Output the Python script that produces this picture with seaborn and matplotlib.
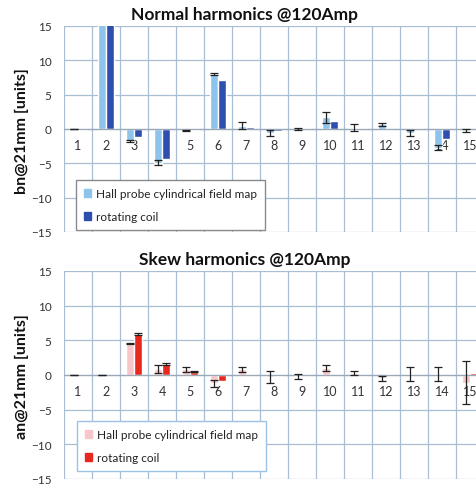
import numpy as np
import pandas as pd
import matplotlib
matplotlib.use("Agg")
import matplotlib.pyplot as plt
import seaborn as sns

harmonics = [str(i) for i in range(1, 16)]
sources = ["Hall probe cylindrical field map", "rotating coil"]

# normal harmonics bn@21mm [units]
bn_hall = [0.0, 25.0, -1.7, -4.9, -0.2, 8.0, 0.5, -0.6, 0.0, 1.7, 0.2, 0.7, -0.6, -2.7, -0.2]
bn_hall_err = [0.05, 0.1, 0.15, 0.35, 0.1, 0.15, 0.5, 0.4, 0.2, 0.8, 0.5, 0.2, 0.4, 0.3, 0.2]
bn_coil = [-0.2, 25.0, -1.2, -4.4, -0.2, 7.2, 0.3, -0.3, 0.1, 1.1, 0.1, -0.2, 0.1, -1.5, -0.05]
bn_coil_err = [0.0] * 15

# skew harmonics an@21mm [units]
an_hall = [0.0, 0.0, 4.5, 0.9, 0.8, -1.2, 0.8, -0.3, -0.2, 1.0, 0.3, -0.5, 0.2, 0.2, -1.1]
an_hall_err = [0.05, 0.05, 0.1, 0.6, 0.4, 0.5, 0.4, 0.9, 0.4, 0.4, 0.3, 0.3, 1.0, 1.0, 3.1]
an_coil = [-0.05, -0.05, 5.9, 1.6, 0.5, -0.8, 0.2, -0.1, 0.0, 0.05, -0.1, 0.2, 0.0, -0.05, 0.3]
an_coil_err = [0, 0, 0.1, 0.1, 0.05, 0, 0, 0, 0, 0, 0, 0, 0, 0, 0]

grid_col = "#a9bdd3"

sns.set_style("white")
plt.rcParams["font.family"] = ["Lato", "DejaVu Sans"]

fig = plt.figure(figsize=(4.76, 4.85), dpi=100)


def draw_panel(rect, hall, hall_err, coil, coil_err, colors, legend_anchor, legend_edge):
    ax = fig.add_axes(rect)
    df = pd.DataFrame({
        "harmonic": harmonics * 2,
        "value": hall + coil,
        "source": [sources[0]] * 15 + [sources[1]] * 15,
    })
    sns.barplot(data=df, x="harmonic", y="value", hue="source", order=harmonics,
                hue_order=sources, palette=colors, width=0.58, saturation=1,
                errorbar=None, ax=ax, legend=False)
    # error bars drawn on top of each series
    for bars, vals, errs in zip(ax.containers, [hall, coil], [hall_err, coil_err]):
        xs = [b.get_x() + b.get_width() / 2 for b in bars]
        keep = [i for i, e in enumerate(errs) if e > 0]
        ax.errorbar([xs[i] for i in keep], [vals[i] for i in keep],
                    yerr=[errs[i] for i in keep], fmt="none", ecolor="#222222",
                    elinewidth=0.9, capsize=2.8, capthick=0.9, zorder=3)

    ax.set_xlim(-0.5, 14.5)
    ax.set_ylim(-15, 15)
    ax.set_yticks(np.arange(-15, 16, 5))
    ax.set_xticks(np.arange(-0.5, 15, 1), minor=True)
    ax.set_axisbelow(True)
    ax.grid(which="minor", axis="x", color=grid_col, lw=0.9)
    ax.grid(which="major", axis="y", color=grid_col, lw=0.9)
    ax.grid(which="major", axis="x", visible=False)
    for s in ["top", "right", "left"]:
        ax.spines[s].set_visible(False)
    ax.spines["bottom"].set_position(("data", 0))
    ax.spines["bottom"].set_color("#9aa8b8")
    ax.spines["bottom"].set_linewidth(0.9)
    ax.tick_params(axis="x", which="both", length=0, pad=7, labelsize=9, colors="#333333")
    ax.tick_params(axis="y", length=0, pad=9, labelsize=8.5, colors="#333333")
    ax.set_xlabel("")
    ax.set_ylabel("")

    handles = [plt.Rectangle((0, 0), 1, 1, color=c) for c in colors]
    leg = ax.legend(handles, sources, loc="upper left", bbox_to_anchor=legend_anchor,
                    bbox_transform=fig.transFigure, borderaxespad=0, fontsize=8.5,
                    handlelength=0.6, handleheight=0.7, handletextpad=0.4,
                    labelspacing=1.0, borderpad=0.7, fancybox=False, framealpha=1)
    leg.get_frame().set_edgecolor(legend_edge)
    leg.get_frame().set_linewidth(1.0)
    for t in leg.get_texts():
        t.set_color("#222222")
    return ax


draw_panel([64 / 476, 252 / 485, 420 / 476, 206 / 485], bn_hall, bn_hall_err, bn_coil,
           bn_coil_err, ["#8ec4ec", "#2e4fae"], (76 / 476, 1 - 181 / 485), "#8a8a8a")
draw_panel([64 / 476, 5 / 485, 420 / 476, 208 / 485], an_hall, an_hall_err, an_coil,
           an_coil_err, ["#f8c6c8", "#e8281e"], (77 / 476, 1 - 422 / 485), "#9cc3e6")

fig.text(245 / 476, 1 - 15 / 485, "Normal harmonics @120Amp", ha="center", va="center",
         fontsize=12.5, fontweight="bold", color="#111111")
fig.text(245 / 476, 1 - 260 / 485, "Skew harmonics @120Amp", ha="center", va="center",
         fontsize=12.5, fontweight="bold", color="#111111")
fig.text(22 / 476, 1 - 131 / 485, "bn@21mm [units]", ha="center", va="center",
         rotation=90, fontsize=11.5, fontweight="bold", color="#111111")
fig.text(22 / 476, 1 - 377 / 485, "an@21mm [units]", ha="center", va="center",
         rotation=90, fontsize=11.5, fontweight="bold", color="#111111")

fig.savefig("out.png", dpi=100)
